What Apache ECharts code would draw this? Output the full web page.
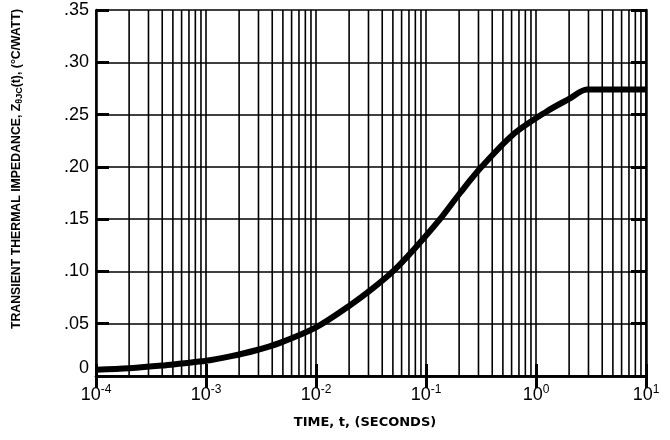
<!DOCTYPE html>
<html>
<head>
<meta charset="utf-8">
<script src="https://cdn.jsdelivr.net/npm/echarts@6/dist/echarts.min.js"></script>
<style>html,body{margin:0;padding:0;background:#fff;}#c{width:670px;height:440px;}</style>
</head>
<body>
<div id="c"></div>
<script>
// Data
var times = [1e-4, 2e-4, 4e-4, 6e-4, 1e-3, 1.7e-3, 2.8e-3, 4.7e-3, 1e-2, 2e-2, 3.3e-2, 5e-2, 7.9e-2, 0.134, 0.204, 0.32, 0.62, 1.25, 2.0, 2.9, 5, 10];
var zth   = [0.006, 0.0075, 0.010, 0.012, 0.0145, 0.019, 0.0244, 0.0317, 0.0465, 0.067, 0.084, 0.100, 0.122, 0.150, 0.175, 0.200, 0.231, 0.253, 0.265, 0.274, 0.274, 0.274];
var yTicks = [0, 0.05, 0.10, 0.15, 0.20, 0.25, 0.30, 0.35];
var decades = [1e-4, 1e-3, 1e-2, 1e-1, 1, 10];
var minorMult = [2, 3, 4, 5, 6, 7, 8, 9];

var minorX = [];
for (var i = 0; i < decades.length - 1; i++) {
  for (var j = 0; j < minorMult.length; j++) {
    minorX.push([decades[i] * minorMult[j], 0]);
  }
}

var font = 'Liberation Sans, Arial, sans-serif';
var chart = echarts.init(document.getElementById('c'));
chart.setOption({
  backgroundColor: '#fff',
  animation: false,
  grid: { left: 96, right: 24, top: 10, bottom: 64, containLabel: false },
  xAxis: [{
    type: 'log', logBase: 10, min: 1e-4, max: 10,
    axisLine: { show: true, lineStyle: { color: '#000', width: 2.5 } },
    axisTick: { show: true, inside: true, length: 12, lineStyle: { color: '#000', width: 3 } },
    splitLine: { show: true, lineStyle: { color: '#000', width: 1.6 } },
    axisLabel: {
      margin: 8, color: '#000',
      formatter: function (v) {
        var e = Math.round(Math.log10(v));
        return '{b|10}{s|' + e + '}';
      },
      rich: {
        b: { fontSize: 18, fontFamily: font, color: '#000', verticalAlign: 'bottom', lineHeight: 20 },
        s: { fontSize: 12, fontFamily: font, color: '#000', verticalAlign: 'top', padding: [0, 0, 8, 0], lineHeight: 12 }
      }
    }
  }, {
    type: 'log', logBase: 10, min: 1e-4, max: 10, position: 'top',
    axisLine: { show: true, lineStyle: { color: '#000', width: 2.5 } },
    axisTick: { show: true, inside: true, length: 12, lineStyle: { color: '#000', width: 3 } },
    axisLabel: { show: false }, splitLine: { show: false }
  }],
  yAxis: [{
    type: 'value', min: 0, max: 0.35, interval: 0.05,
    axisLine: { show: true, lineStyle: { color: '#000', width: 2.5 } },
    axisTick: { show: true, inside: true, length: 13, lineStyle: { color: '#000', width: 3 } },
    splitLine: { show: true, lineStyle: { color: '#000', width: 1.5 } },
    axisLabel: {
      margin: 7, color: '#000', fontSize: 18, fontFamily: font,
      formatter: function (v) {
        var k = Math.round(v * 100);
        if (k === 0) return '{z|0}';
        return '.' + (k < 10 ? '0' + k : '' + k);
      },
      rich: { z: { fontSize: 18, fontFamily: font, color: '#000', padding: [0, 0, 16, 0] } }
    }
  }, {
    type: 'value', min: 0, max: 0.35, interval: 0.05, position: 'right',
    axisLine: { show: true, lineStyle: { color: '#000', width: 2.5 } },
    axisTick: { show: true, inside: true, length: 15, lineStyle: { color: '#000', width: 3 } },
    axisLabel: { show: false }, splitLine: { show: false }
  }],
  graphic: [{
    type: 'text', x: 365, y: 423,
    style: { text: 'TIME, t, (SECONDS)', fill: '#000', font: 'bold 13px "DejaVu Sans", sans-serif', align: 'center', verticalAlign: 'middle' }
  }, {
    type: 'text', x: 17, y: 169, rotation: Math.PI / 2,
    style: {
      text: 'TRANSIENT THERMAL IMPEDANCE, Z{sub|θJC}(t), (°C/WATT)',
      fill: '#000', font: 'bold 12.3px ' + font, align: 'center', verticalAlign: 'middle',
      rich: { sub: { fontSize: 9, fontWeight: 'bold', fontFamily: font, fill: '#000', padding: [6, 0, 0, 0] } }
    }
  }],
  series: [{
    type: 'custom', xAxisIndex: 0, yAxisIndex: 0,
    data: minorX, silent: true, z: 1,
    encode: { x: 0, y: 1 },
    renderItem: function (params, api) {
      var x = api.value(0);
      var p0 = api.coord([x, 0]);
      var p1 = api.coord([x, 0.35]);
      return { type: 'line', shape: { x1: p0[0], y1: p0[1], x2: p1[0], y2: p1[1] }, style: { stroke: '#000', lineWidth: 1.6 } };
    }
  }, {
    type: 'line', xAxisIndex: 0, yAxisIndex: 0,
    data: times.map(function (t, i) { return [t, zth[i]]; }),
    smooth: 0.3, showSymbol: false,
    lineStyle: { color: '#000', width: 6 },
    z: 5
  }]
});
</script>
</body>
</html>
